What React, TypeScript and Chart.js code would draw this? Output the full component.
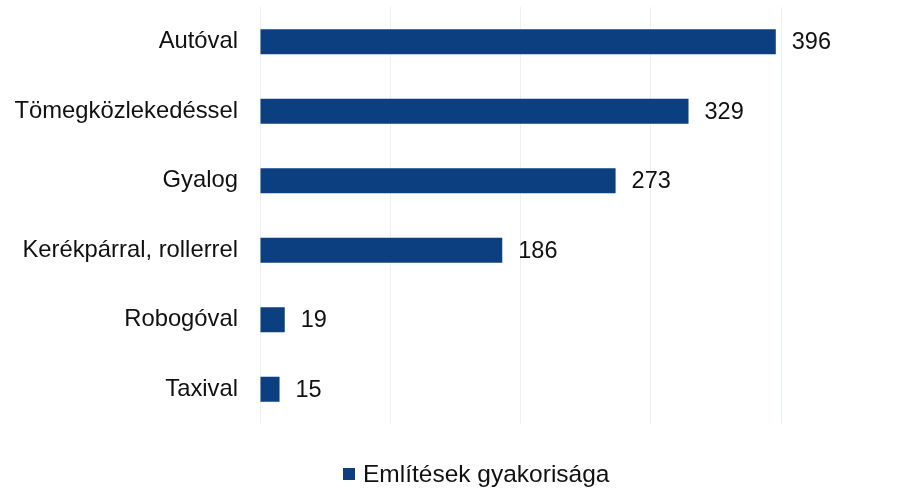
import React, { useEffect, useRef } from "react";
import { Chart, registerables } from "chart.js";

Chart.register(...registerables);

const categories = ["Autóval", "Tömegközlekedéssel", "Gyalog", "Kerékpárral, rollerrel", "Robogóval", "Taxival"];
const values = [396, 329, 273, 186, 19, 15];
const seriesName = "Említések gyakorisága";
const xTicks = [0, 100, 200, 300, 400];

const FONT = "'Liberation Sans', Arial, sans-serif";
const BAR = "#0b3f7f";

const valueLabels = {
  id: "valueLabels",
  afterDatasetsDraw(chart: any) {
    const ctx = chart.ctx;
    const meta = chart.getDatasetMeta(0);
    ctx.save();
    ctx.font = `23.5px ${FONT}`;
    ctx.fillStyle = "#111111";
    ctx.textAlign = "left";
    ctx.textBaseline = "middle";
    meta.data.forEach((el: any, i: number) => {
      ctx.fillText(String(values[i]), el.x + 16, el.y + 1);
    });
    ctx.restore();
  },
};

const bottomLegend = {
  id: "bottomLegend",
  afterDraw(chart: any) {
    const ctx = chart.ctx;
    const ds = chart.data.datasets[0];
    ctx.save();
    ctx.fillStyle = ds.backgroundColor;
    ctx.fillRect(343, 468, 12, 12);
    ctx.font = `24.5px ${FONT}`;
    ctx.fillStyle = "#111111";
    ctx.textAlign = "left";
    ctx.textBaseline = "middle";
    ctx.fillText(ds.label, 363, 475);
    ctx.restore();
  },
};

export default function App() {
  const ref = useRef<HTMLCanvasElement>(null);
  useEffect(() => {
    document.body.style.margin = "0";
    const chart = new Chart(ref.current!, {
      type: "bar",
      data: {
        labels: categories,
        datasets: [
          {
            label: seriesName,
            data: values,
            backgroundColor: BAR,
            borderWidth: 0,
            barPercentage: 0.72,
            categoryPercentage: 0.5,
          },
        ],
      },
      options: {
        indexAxis: "y",
        animation: false,
        responsive: false,
        maintainAspectRatio: false,
        layout: { padding: { left: 0, right: 120, top: 7, bottom: 0 } },
        scales: {
          x: {
            min: 0,
            max: 400,
            afterBuildTicks: (s: any) => {
              s.ticks = xTicks.map((v) => ({ value: v }));
            },
            afterFit: (s: any) => {
              s.height = 64;
              s.paddingLeft = 0;
              s.paddingRight = 0;
            },
            ticks: { display: false },
            grid: { color: "#e9f4f1", lineWidth: 1, drawTicks: false },
            border: { display: false },
          },
          y: {
            afterFit: (s: any) => {
              s.width = 260;
              s.paddingTop = 0;
              s.paddingBottom = 0;
            },
            ticks: {
              color: "#111111",
              font: { family: FONT, size: 23.8 },
              padding: 22,
            },
            grid: { display: false, drawTicks: false },
            border: { display: false },
          },
        },
        plugins: {
          legend: { display: false },
          tooltip: { enabled: false },
        },
      },
      plugins: [valueLabels, bottomLegend],
    });
    return () => chart.destroy();
  }, []);
  return <canvas ref={ref} width={901} height={488} style={{ display: "block" }} />;
}
